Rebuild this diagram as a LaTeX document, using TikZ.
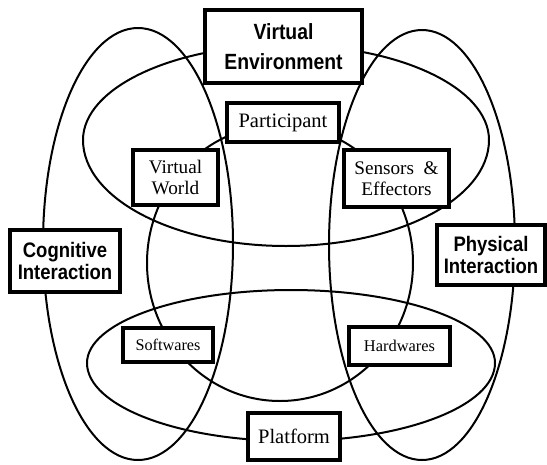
\documentclass[tikz,border=0pt]{standalone}
\usepackage{fontspec}
\newfontfamily\headfont{Liberation Sans}[FakeStretch=0.88]
\setmainfont{Liberation Serif}
\begin{document}
\begin{tikzpicture}[x=1pt,y=-1pt,
  loopline/.style={line width=2pt},
  box/.style={draw, line width=3.4pt, fill=white, inner sep=0pt, align=center},
  headbox/.style={box, font=\headfont\bfseries\fontsize{21}{22}\selectfont},
  itembox/.style={box, font=\fontsize{19.2}{21}\selectfont}]
\useasboundingbox (0,0) rectangle (547,464);
% loops
\draw[loopline] (138,244) ellipse [x radius=95, y radius=216];
\draw[loopline] (422,245) ellipse [x radius=93, y radius=215];
\draw[loopline] (83,140) arc[start angle=180, end angle=360, x radius=203, y radius=95]
  arc[start angle=0, end angle=180, x radius=203, y radius=106];
\draw[loopline] (87,363) arc[start angle=180, end angle=360, x radius=204, y radius=73]
  arc[start angle=0, end angle=180, x radius=204, y radius=78];
\draw[loopline] (280,263) ellipse [x radius=133, y radius=138];
% boxes
\node[headbox, minimum width=157pt, minimum height=73pt,
  font=\headfont\bfseries\fontsize{22}{30}\selectfont] (ve) at (283.5,46.5) {Virtual\\Environment};
\node[headbox, minimum width=110pt, minimum height=62pt] (cog) at (65,261) {Cognitive\\Interaction};
\node[headbox, minimum width=108pt, minimum height=60pt] (phy) at (491,255) {Physical\\Interaction};
\node[itembox, minimum width=112pt, minimum height=39pt, font=\fontsize{20.5}{21}\selectfont] (par) at (283,122.5) {Participant};
\node[itembox, minimum width=85pt, minimum height=55pt] (vw) at (175.5,177.5) {Virtual\\World};
\node[itembox, minimum width=105pt, minimum height=57pt] (se) at (396.5,178.5) {Sensors\hspace{0.5em}\&\\Effectors};
\node[itembox, minimum width=90pt, minimum height=34pt, font=\fontsize{16.2}{18}\selectfont] (sw) at (168,345) {Softwares};
\node[itembox, minimum width=101pt, minimum height=38pt, font=\fontsize{16.4}{18}\selectfont] (hw) at (399.5,346) {Hardwares};
\node[itembox, minimum width=92pt, minimum height=47pt, font=\fontsize{20.5}{21}\selectfont] (pl) at (294,436.5) {Platform};
\end{tikzpicture}
\end{document}
